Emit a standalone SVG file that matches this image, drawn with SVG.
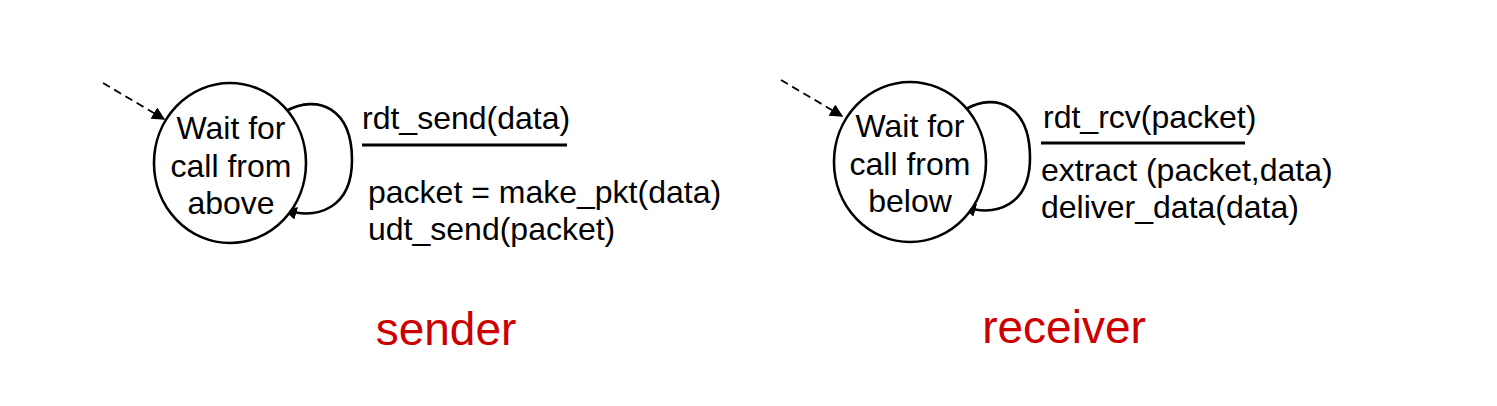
<svg xmlns="http://www.w3.org/2000/svg" width="1497" height="406" viewBox="0 0 1497 406">
<style>
.state{fill:#fff;stroke:#000;stroke-width:2.6}
.lbl{font-family:"Liberation Sans",Arial,sans-serif;font-size:32px;fill:#000}
.st{text-anchor:middle}
.edge{fill:none;stroke:#000;stroke-width:2.6}
.dash{fill:none;stroke:#000;stroke-width:1.8;stroke-dasharray:8 5}
.bar{stroke:#000;stroke-width:3}
.role{font-family:"Liberation Sans",Arial,sans-serif;font-size:46px;fill:#cc0000;text-anchor:middle}
</style>
<defs>
<marker id="ah" viewBox="0 0 10 10" refX="9" refY="5" markerWidth="13" markerHeight="13" markerUnits="userSpaceOnUse" orient="auto">
<path d="M0,0 L10,5 L0,10 z" fill="#000"/>
</marker>
</defs>
<g id="connectors">
<path class="dash" d="M103,83 L164,119" marker-end="url(#ah)"/>
<path class="edge" d="M286,111 C318,94 352,108 352,160 C352,208 318,220 285,210" marker-end="url(#ah)"/>
<path class="dash" d="M781,80 L842,116" marker-end="url(#ah)"/>
<path class="edge" d="M966,109 C997,92 1030,106 1030,158 C1030,205 997,217 964,207" marker-end="url(#ah)"/>
</g>
<g id="sender-state">
<ellipse class="state" cx="230" cy="163" rx="76" ry="80"/>
<text class="lbl st" x="231" y="139">Wait for</text>
<text class="lbl st" x="231" y="177">call from</text>
<text class="lbl st" x="231" y="214">above</text>
</g>
<g id="sender-label">
<text class="lbl" x="362" y="129">rdt_send(data)</text>
<line class="bar" x1="362" y1="145" x2="567" y2="145"/>
<text class="lbl" x="368" y="203">packet = make_pkt(data)</text>
<text class="lbl" x="368" y="240">udt_send(packet)</text>
</g>
<g id="receiver-state">
<ellipse class="state" cx="910" cy="162" rx="76" ry="80"/>
<text class="lbl st" x="910" y="137">Wait for</text>
<text class="lbl st" x="910" y="175">call from</text>
<text class="lbl st" x="910" y="212">below</text>
</g>
<g id="receiver-label">
<text class="lbl" x="1043" y="128">rdt_rcv(packet)</text>
<line class="bar" x1="1041" y1="143" x2="1245" y2="143"/>
<text class="lbl" x="1041" y="181">extract (packet,data)</text>
<text class="lbl" x="1041" y="218">deliver_data(data)</text>
</g>
<g id="roles">
<text class="role" x="446" y="345">sender</text>
<text class="role" x="1064" y="343">receiver</text>
</g>
</svg>
